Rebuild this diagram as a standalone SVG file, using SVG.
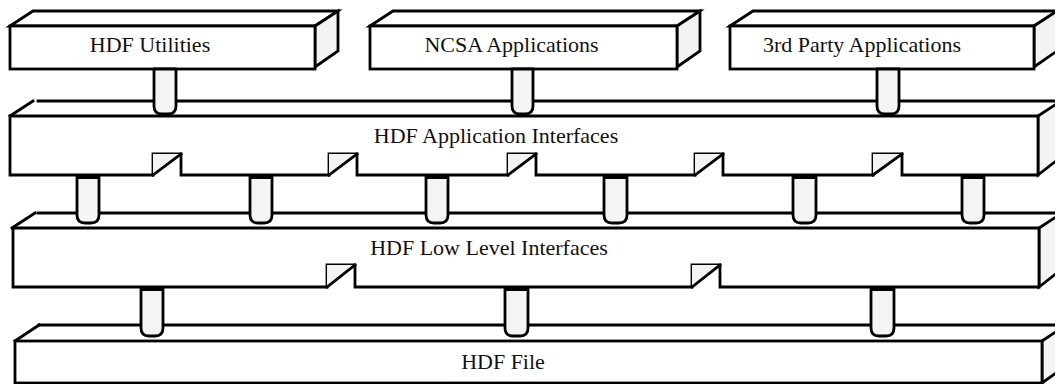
<svg xmlns="http://www.w3.org/2000/svg" width="1055" height="384" viewBox="0 0 1055 384">
<style>
.face{fill:#ffffff;stroke:#000;stroke-width:2.8;stroke-linejoin:miter}
.side{fill:#f3f3f3;stroke:#000;stroke-width:2.8;stroke-linejoin:miter}
.top{fill:#ffffff;stroke:none}
.ln{fill:none;stroke:#000;stroke-width:2.8;stroke-linecap:square}
.tri{fill:#f3f3f3;stroke:none}
.peg{fill:#f4f4f4;stroke:#000;stroke-width:2.8;stroke-linejoin:round}
.pegtop{fill:none;stroke:#000;stroke-width:4}
.lbl{font-family:"Liberation Serif","Times New Roman",serif;font-size:22px;fill:#111;text-anchor:middle}
</style>
<rect width="1055" height="384" fill="#ffffff"/>

<g id="hdf-utilities">
<polygon class="face" points="10,26 33,11 338,11 315,26"/>
<polygon class="side" points="315,26 338,11 338,51 315,67"/>
<rect class="face" x="10" y="26" width="305" height="43"/>
<text class="lbl" x="150" y="52">HDF Utilities</text>
</g>

<g id="ncsa-applications">
<polygon class="face" points="370,26 393,11 700,11 677,26"/>
<polygon class="side" points="677,26 700,11 700,51 677,67"/>
<rect class="face" x="370" y="26" width="307" height="43"/>
<text class="lbl" x="511.5" y="52">NCSA Applications</text>
</g>

<g id="third-party-applications">
<polygon class="face" points="730,26 753,11 1057,11 1034,26"/>
<polygon class="side" points="1034,26 1057,11 1057,51 1034,67"/>
<rect class="face" x="730" y="26" width="304" height="43"/>
<text class="lbl" x="862" y="52">3rd Party Applications</text>
</g>

<g id="hdf-application-interfaces">
<polygon class="top" points="10,116 33,101 1061,101 1038,116"/>
<line class="ln" x1="10" y1="116" x2="33" y2="101"/>
<line class="ln" x1="38" y1="101" x2="1061" y2="101"/>
<polygon class="side" points="1038,116 1061,101 1061,157 1038,175"/>
<path class="face" d="M10,116 H1038 V175 H902 V154 H873 V175 H723 V154 H695 V175 H536 V154 H508 V175 H357 V154 H329 V175 H181 V154 H153 V175 H10 Z"/>
<g>
<polygon class="tri" points="153,154 181,154 153,175"/>
<line class="ln" x1="153" y1="175" x2="181" y2="154"/>
<polygon class="tri" points="329,154 357,154 329,175"/>
<line class="ln" x1="329" y1="175" x2="357" y2="154"/>
<polygon class="tri" points="508,154 536,154 508,175"/>
<line class="ln" x1="508" y1="175" x2="536" y2="154"/>
<polygon class="tri" points="695,154 723,154 695,175"/>
<line class="ln" x1="695" y1="175" x2="723" y2="154"/>
<polygon class="tri" points="873,154 902,154 873,175"/>
<line class="ln" x1="873" y1="175" x2="902" y2="154"/>
</g>
<text class="lbl" x="496" y="143">HDF Application Interfaces</text>
</g>

<g id="hdf-low-level-interfaces">
<polygon class="top" points="12,228 35,213 1062,213 1039,228"/>
<line class="ln" x1="12" y1="228" x2="35" y2="213"/>
<line class="ln" x1="38" y1="213" x2="1062" y2="213"/>
<polygon class="side" points="1039,228 1062,213 1062,269 1039,287"/>
<path class="face" d="M13,228 H1039 V287 H720 V265 H692 V287 H355 V265 H327 V287 H13 Z"/>
<polygon class="tri" points="327,265 355,265 327,287"/>
<line class="ln" x1="327" y1="287" x2="355" y2="265"/>
<polygon class="tri" points="692,265 720,265 692,287"/>
<line class="ln" x1="692" y1="287" x2="720" y2="265"/>
<text class="lbl" x="489" y="255">HDF Low Level Interfaces</text>
</g>

<g id="hdf-file">
<polygon class="top" points="15,341 39,325 1066,325 1042,341"/>
<line class="ln" x1="15" y1="341" x2="39" y2="325"/>
<line class="ln" x1="39" y1="325" x2="1066" y2="325"/>
<polygon class="side" points="1042,341 1066,325 1066,366 1042,383"/>
<rect class="face" x="15" y="341" width="1027" height="42"/>
<text class="lbl" x="503" y="369">HDF File</text>
</g>

<g id="connectors">
<path class="peg" d="M154,69 V106 Q154,114 162,114 H168 Q176,114 176,106 V69 Z"/>
<path class="peg" d="M512,69 V106 Q512,114 520,114 H525 Q533,114 533,106 V69 Z"/>
<path class="peg" d="M877,69 V106 Q877,114 885,114 H891 Q899,114 899,106 V69 Z"/>

<path class="peg" d="M77,177 V215 Q77,223 85,223 H91 Q99,223 99,215 V177 Z"/>
<path class="peg" d="M250,177 V215 Q250,223 258,223 H264 Q272,223 272,215 V177 Z"/>
<path class="peg" d="M426,177 V215 Q426,223 434,223 H440 Q448,223 448,215 V177 Z"/>
<path class="peg" d="M604,177 V215 Q604,223 612,223 H619 Q627,223 627,215 V177 Z"/>
<path class="peg" d="M793,177 V215 Q793,223 801,223 H808 Q816,223 816,215 V177 Z"/>
<path class="peg" d="M962,177 V215 Q962,223 970,223 H976 Q984,223 984,215 V177 Z"/>

<path class="peg" d="M141,289 V328 Q141,336 149,336 H155 Q163,336 163,328 V289 Z"/>
<path class="peg" d="M505,289 V328 Q505,336 513,336 H520 Q528,336 528,328 V289 Z"/>
<path class="peg" d="M871,289 V328 Q871,336 879,336 H886 Q894,336 894,328 V289 Z"/>

<g class="pegtop">
<line x1="77" y1="177" x2="99" y2="177"/>
<line x1="250" y1="177" x2="272" y2="177"/>
<line x1="426" y1="177" x2="448" y2="177"/>
<line x1="604" y1="177" x2="627" y2="177"/>
<line x1="793" y1="177" x2="816" y2="177"/>
<line x1="962" y1="177" x2="984" y2="177"/>
<line x1="141" y1="289" x2="163" y2="289"/>
<line x1="505" y1="289" x2="528" y2="289"/>
<line x1="871" y1="289" x2="894" y2="289"/>
</g>
</g>
</svg>
